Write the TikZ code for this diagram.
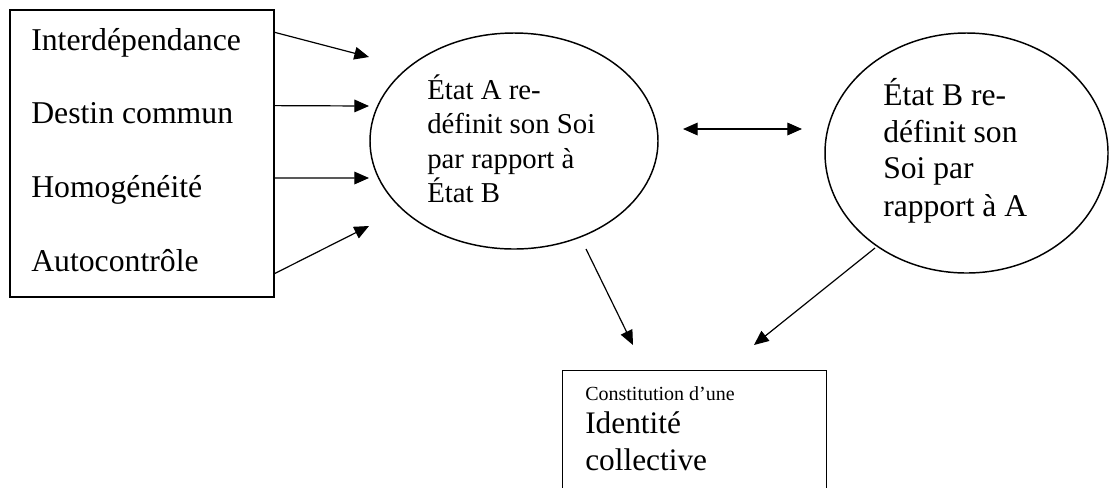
\documentclass[tikz,border=0pt]{standalone}
\usepackage{fontspec}
\setmainfont{Liberation Serif}
\usetikzlibrary{shapes,calc,arrows.meta}
\tikzset{
  cadre/.style={draw, line width=1.1pt, inner sep=0pt},
  etat/.style={draw, ellipse, line width=1.1pt, inner sep=0pt},
  texte/.style={anchor=base west, inner sep=0pt},
  fleche/.style={line width=0.9pt, -{Triangle[length=11pt,width=9.5pt]}},
  double fleche/.style={line width=0.9pt, {Triangle[length=11pt,width=9.5pt]}-{Triangle[length=11pt,width=9.5pt]}}
}
\begin{document}
\begin{tikzpicture}[x=0.75pt,y=-0.75pt]
\useasboundingbox (0,0) rectangle (1109,487);
\node[cadre, minimum width=198pt, minimum height=215.25pt] (facteurs) at (142,153.5) {};
\node[texte, font=\fontsize{23.8}{27}\selectfont] (interdep) at (31,50) {Interdépendance};
\node[texte, font=\fontsize{23.8}{27}\selectfont] (destin) at (31,123) {Destin commun};
\node[texte, font=\fontsize{23.8}{27}\selectfont] (homog) at (31,197) {Homogénéité};
\node[texte, font=\fontsize{23.8}{27}\selectfont] (autoc) at (31,271) {Autocontrôle};
\node[etat, minimum width=216pt, minimum height=162pt] (etatA) at (514,141) {};
\node[texte, font=\fontsize{21.6}{25.5}\selectfont] (etatA1) at (427,99) {État A re-};
\node[texte, font=\fontsize{21.6}{25.5}\selectfont] (etatA2) at (427,133) {définit son Soi};
\node[texte, font=\fontsize{21.6}{25.5}\selectfont] (etatA3) at (427,168) {par rapport à};
\node[texte, font=\fontsize{21.6}{25.5}\selectfont] (etatA4) at (427,202) {État B};
\node[etat, minimum width=212.25pt, minimum height=180pt] (etatB) at (966.5,153) {};
\node[texte, font=\fontsize{23.7}{27.75}\selectfont] (etatB1) at (883,105) {État B re-};
\node[texte, font=\fontsize{23.7}{27.75}\selectfont] (etatB2) at (883,142) {définit son};
\node[texte, font=\fontsize{23.7}{27.75}\selectfont] (etatB3) at (883,178) {Soi par};
\node[texte, font=\fontsize{23.7}{27.75}\selectfont] (etatB4) at (883,216) {rapport à A};
\node[cadre, anchor=north west, minimum width=198pt, minimum height=90pt] (identite) at (562,370) {};
\node[texte, font=\fontsize{15}{18}\selectfont] (constit) at (585,400) {Constitution d’une};
\node[texte, font=\fontsize{23.5}{27}\selectfont] (ident) at (585,433) {Identité};
\node[texte, font=\fontsize{23.5}{27}\selectfont] (collect) at (585,470) {collective};
\coordinate (e1) at (369,57);
\coordinate (e2) at (369,106);
\coordinate (e3) at (369,178);
\coordinate (e4) at (369,226);
\coordinate (dA) at (683,129);
\coordinate (dB) at (802,129);
\coordinate (sA) at (586,249);
\coordinate (tA) at (633,345);
\coordinate (sB) at (875,248);
\coordinate (tB) at (754,345);
\draw[fleche] ($(facteurs.north east)!0.080!(facteurs.south east)$) -- (e1);
\draw[fleche] ($(facteurs.north east)!0.334!(facteurs.south east)$) -- (e2);
\draw[fleche] ($(facteurs.north east)!0.585!(facteurs.south east)$) -- (e3);
\draw[fleche] ($(facteurs.north east)!0.916!(facteurs.south east)$) -- (e4);
\draw[double fleche] (dA) -- (dB);
\draw[fleche] (sA) -- (tA);
\draw[fleche] (sB) -- (tB);
\end{tikzpicture}
\end{document}
